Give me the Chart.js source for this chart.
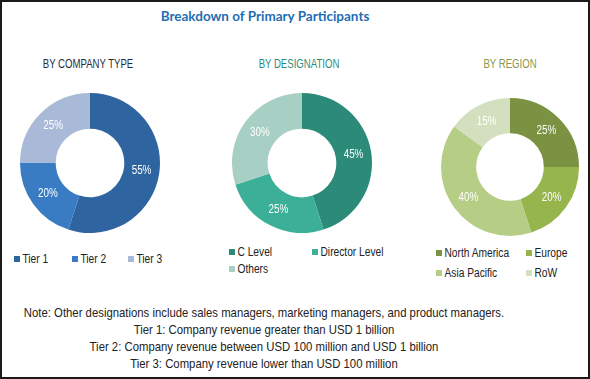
<!DOCTYPE html>
<html>
<head>
<meta charset="utf-8">
<script src="https://cdn.jsdelivr.net/npm/chart.js@4/dist/chart.umd.min.js"></script>
<style>
  html, body { margin: 0; padding: 0; background: #fff; }
  #frame { position: absolute; left: 0; top: 0; width: 586px; height: 375px; border: 2px solid #1a1a1a; background: #fff; overflow: hidden; }
  .abs { position: absolute; white-space: nowrap; }
  #title { left: 0; width: 526px; top: 6px; text-align: center; font: bold 13.5px Lato, "Open Sans", sans-serif; color: #1f6db3; }
  .sub { top: 55px; font: 12px "Liberation Sans", sans-serif; text-align: center; width: 160px; transform: scaleX(0.8); transform-origin: 50% 50%; }
  .cv { position: absolute; }
  .leg { position: absolute; font: 12px "Liberation Sans", sans-serif; color: #222; white-space: nowrap; }
  .leg .item { position: absolute; transform: scaleX(0.85); transform-origin: 0 50%; }
  .leg .sw { display: inline-block; width: 7px; height: 6px; margin-right: 3px; vertical-align: 1px; }
  #notes { left: -53px; width: 630px; top: 302px; text-align: center; font: 13.5px "Liberation Sans", sans-serif; color: #222; line-height: 17px; transform: scaleX(0.84); transform-origin: 50% 50%; }
</style>
</head>
<body>
<div id="frame">
  <div id="title" class="abs">Breakdown of Primary Participants</div>
  <div class="abs sub" style="left:6px; color:#1f2d3d;">BY COMPANY TYPE</div>
  <div class="abs sub" style="left:217px; color:#2e8b7a;">BY DESIGNATION</div>
  <div class="abs sub" style="left:428px; color:#86984e;">BY REGION</div>
  <div class="cv" style="left:18px; top:91px; width:140px; height:140px;"><canvas id="c1"></canvas></div>
  <div class="cv" style="left:230px; top:91px; width:140px; height:140px;"><canvas id="c2"></canvas></div>
  <div class="cv" style="left:439px; top:96px; width:138px; height:138px;"><canvas id="c3"></canvas></div>
  <div id="leg1" class="leg"></div>
  <div id="leg2" class="leg"></div>
  <div id="leg3" class="leg"></div>
  <div id="notes" class="abs"></div>
</div>
<script>
// ---- data ----
const companyTypes = ["Tier 1", "Tier 2", "Tier 3"];
const companyValues = [55, 20, 25];
const designations = ["C Level", "Director Level", "Others"];
const designationValues = [45, 25, 30];
const regions = ["North America", "Europe", "Asia Pacific", "RoW"];
const regionValues = [25, 20, 40, 15];
const noteLines = [
  "Note: Other designations include sales managers, marketing managers, and product managers.",
  "Tier 1: Company revenue greater than USD 1 billion",
  "Tier 2: Company revenue between USD 100 million and USD 1 billion",
  "Tier 3: Company revenue lower than USD 100 million"
];

// ---- styles ----
const companyColors = ["#2e64a0", "#3a7cc3", "#a9bad8"];
const designationColors = ["#2b8a78", "#3caf98", "#a8cfc3"];
const regionColors = ["#7a9241", "#96b54d", "#b5cd85", "#d3dfbe"];

const pctLabels = {
  id: 'pctLabels',
  afterDatasetsDraw(chart) {
    const ctx = chart.ctx;
    const meta = chart.getDatasetMeta(0);
    const data = chart.data.datasets[0].data;
    ctx.save();
    ctx.font = '12px "Liberation Sans", sans-serif';
    ctx.fillStyle = '#ffffff';
    ctx.textAlign = 'center';
    ctx.textBaseline = 'middle';
    meta.data.forEach((arc, i) => {
      const p = arc.tooltipPosition();
      ctx.save();
      ctx.translate(p.x, p.y);
      ctx.scale(0.82, 1);
      ctx.fillText(data[i] + '%', 0, 0);
      ctx.restore();
    });
    ctx.restore();
  }
};

function makeDonut(id, labels, values, colors) {
  new Chart(document.getElementById(id), {
    type: 'doughnut',
    data: { labels: labels, datasets: [{ data: values, backgroundColor: colors, borderWidth: 0, hoverOffset: 0 }] },
    options: {
      responsive: true, maintainAspectRatio: false, animation: false,
      cutout: '49%',
      layout: { padding: 0 },
      plugins: { legend: { display: false }, tooltip: { enabled: false } }
    },
    plugins: [pctLabels]
  });
}
makeDonut('c1', companyTypes, companyValues, companyColors);
makeDonut('c2', designations, designationValues, designationColors);
makeDonut('c3', regions, regionValues, regionColors);

function makeLegend(id, labels, colors, positions) {
  const el = document.getElementById(id);
  labels.forEach((l, i) => {
    const d = document.createElement('div');
    d.className = 'item';
    d.style.left = positions[i][0] + 'px';
    d.style.top = positions[i][1] + 'px';
    d.innerHTML = '<span class="sw" style="background:' + colors[i] + '"></span>' + l;
    el.appendChild(d);
  });
}
makeLegend('leg1', companyTypes, companyColors, [[12, 250], [70, 250], [126, 250]]);
makeLegend('leg2', designations, designationColors, [[227, 243], [310, 243], [227, 260]]);
makeLegend('leg3', regions, regionColors, [[434, 244], [524, 244], [434, 264], [524, 264]]);

document.getElementById('notes').innerHTML = noteLines.join('<br>');
</script>
</body>
</html>
